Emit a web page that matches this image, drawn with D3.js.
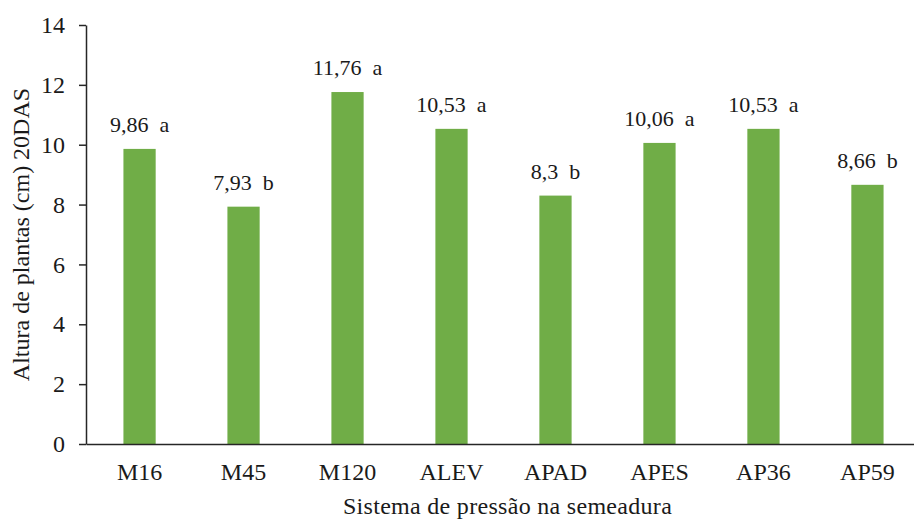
<!DOCTYPE html>
<html>
<head>
<meta charset="utf-8">
<script src="https://cdn.jsdelivr.net/npm/d3@7"></script>
</head>
<body style="margin:0;background:#fff">
<svg id="chart" width="914" height="519" style="display:block"></svg>
<script>
const categories = ["M16", "M45", "M120", "ALEV", "APAD", "APES", "AP36", "AP59"];
const values = [9.86, 7.93, 11.76, 10.53, 8.3, 10.06, 10.53, 8.66];
const letters = ["a", "b", "a", "a", "b", "a", "a", "b"];
const yTicks = [0, 2, 4, 6, 8, 10, 12, 14];
const yTitle = "Altura de plantas (cm) 20DAS";
const xTitle = "Sistema de pressão na semeadura";

const FONT = "Liberation Serif";
const INK = "#1a1a1a";

const svg = d3.select("#chart");

const x = d3.scaleBand()
  .domain(categories)
  .range([86, 921])
  .paddingInner(0.69)
  .paddingOuter(0.36);

const y = d3.scaleLinear().domain([0, 14]).range([444, 25]);

// bars
svg.append("g").selectAll("rect")
  .data(categories)
  .join("rect")
  .attr("x", d => x(d))
  .attr("width", x.bandwidth())
  .attr("y", (d, i) => y(values[i]))
  .attr("height", (d, i) => y(0) - y(values[i]))
  .attr("fill", "#70ad47");

// data labels
svg.append("g").selectAll("text")
  .data(categories)
  .join("text")
  .attr("x", d => x(d) + x.bandwidth() / 2)
  .attr("y", (d, i) => y(values[i]) - 17)
  .attr("text-anchor", "middle")
  .attr("font-family", FONT)
  .attr("font-size", 22)
  .attr("fill", INK)
  .text((d, i) => String(values[i]).replace(".", ",") + "\u00a0\u00a0" + letters[i]);

// y axis
const yAxis = svg.append("g")
  .attr("transform", "translate(86,0)")
  .call(d3.axisLeft(y).tickValues(yTicks).tickSize(7).tickSizeOuter(0).tickPadding(14).tickFormat(d3.format("d")));
yAxis.attr("font-family", FONT).attr("font-size", 24);
yAxis.selectAll("path, line").attr("stroke", "#262626").attr("stroke-width", 1.5);
yAxis.selectAll("text").attr("fill", INK);

// x axis
const xAxis = svg.append("g")
  .attr("transform", "translate(0,444)")
  .call(d3.axisBottom(x).tickSize(0).tickSizeOuter(0));
xAxis.attr("font-family", FONT).attr("font-size", 24);
xAxis.selectAll("path").attr("stroke", "#262626").attr("stroke-width", 1.5);
xAxis.selectAll("text")
  .attr("dy", null)
  .attr("y", 36)
  .attr("fill", INK);

// axis titles
svg.append("text")
  .attr("transform", "translate(29,234.5) rotate(-90)")
  .attr("text-anchor", "middle")
  .attr("font-family", FONT)
  .attr("font-size", 24)
  .attr("fill", INK)
  .text(yTitle);

svg.append("text")
  .attr("x", 507.5)
  .attr("y", 514)
  .attr("text-anchor", "middle")
  .attr("font-family", FONT)
  .attr("font-size", 24)
  .attr("letter-spacing", 0.3)
  .attr("fill", INK)
  .text(xTitle);
</script>
</body>
</html>
